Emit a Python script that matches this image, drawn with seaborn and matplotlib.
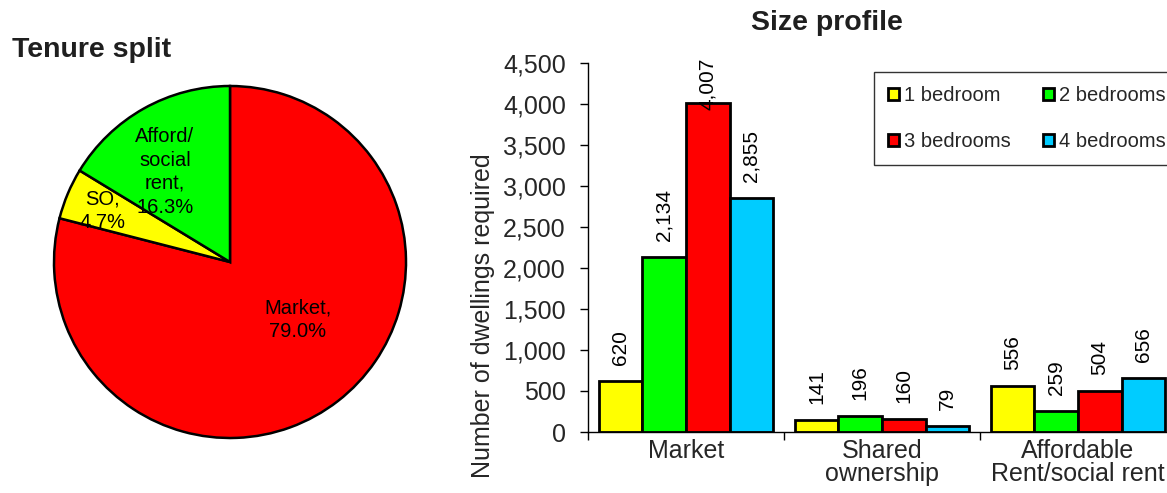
import matplotlib
matplotlib.use("Agg")
import matplotlib.pyplot as plt
import seaborn as sns
import pandas as pd
import numpy as np

# ---- data ----
tenure_labels = ["Market,\n79.0%", "SO,\n4.7%", "Afford/\nsocial\nrent,\n16.3%"]
tenure_values = [79.0, 4.7, 16.3]
tenure_colors = ["#FF0000", "#FFFF00", "#00FF00"]

categories = ["Market", "Shared\nownership", "Affordable\nRent/social rent"]
bed_sizes = ["1 bedroom", "2 bedrooms", "3 bedrooms", "4 bedrooms"]
one_bed = [620, 141, 556]
two_bed = [2134, 196, 259]
three_bed = [4007, 160, 504]
four_bed = [2855, 79, 656]
bed_colors = ["#FFFF00", "#00FF00", "#FF0000", "#00CCFF"]
yticks = [0, 500, 1000, 1500, 2000, 2500, 3000, 3500, 4000, 4500]

sns.set_theme(style="white")
plt.rcParams["font.family"] = ["Liberation Sans", "DejaVu Sans"]

W, H = 1167, 493
fig = plt.figure(figsize=(W / 100, H / 100), dpi=100)

# ---- pie ----
cx, cy, r = 230, 262, 176
axp = fig.add_axes([(cx - r) / W, 1 - (cy + r) / H, 2 * r / W, 2 * r / H])
wedges, texts = axp.pie(tenure_values, colors=tenure_colors, startangle=90,
                        counterclock=False,
                        wedgeprops=dict(edgecolor="black", linewidth=1.8))
axp.set_xlim(-1, 1)
axp.set_ylim(-1, 1)
axp.set_aspect("equal")
lab_pos = [(0.386, -0.33), (-0.727, 0.29), (-0.37, 0.51)]
for lab, (x, y) in zip(tenure_labels, lab_pos):
    axp.text(x, y, lab, ha="center", va="center", fontsize=14.5, color="black",
             linespacing=1.3)
fig.text(12 / W, 1 - 50 / H, "Tenure split", fontsize=20.5, fontweight="bold",
         ha="left", va="center", color="#1f1f1f")

# ---- bars ----
rows = []
for size, vals in zip(bed_sizes, [one_bed, two_bed, three_bed, four_bed]):
    for c, v in zip(categories, vals):
        rows.append({"category": c, "size": size, "value": v})
df = pd.DataFrame(rows)

left, right = 588, 1176
top, bottom = 63, 432
axb = fig.add_axes([left / W, 1 - bottom / H, (right - left) / W, (bottom - top) / H])
sns.barplot(data=df, x="category", y="value", hue="size", order=categories,
            hue_order=bed_sizes, palette=bed_colors, saturation=1, width=0.89,
            edgecolor="black", linewidth=2.0, ax=axb, legend=True)
axb.set_ylim(0, 4500)
axb.set_xlim(-0.5, 2.5)
axb.set_yticks(yticks)
axb.set_yticklabels([f"{v:,}" for v in yticks], fontsize=18)
axb.set_xlabel("")
axb.set_ylabel("Number of dwellings required", fontsize=18)
axb.yaxis.set_label_coords((483 - left) / (right - left), (bottom - 316) / (bottom - top))
axb.yaxis.label.set_va("center")
axb.tick_params(axis="x", which="major", length=0, labelsize=18, pad=5)
for t in axb.get_xticklabels():
    t.set_linespacing(0.95)
axb.set_xticks([-0.5, 0.5, 1.5, 2.5], minor=True)
axb.tick_params(axis="x", which="minor", length=6, width=1, color="black",
                direction="out", bottom=True)
axb.tick_params(axis="y", length=6, width=1, color="black", direction="out",
                left=True, pad=10)
for s in ["top", "right"]:
    axb.spines[s].set_visible(False)
for s in ["left", "bottom"]:
    axb.spines[s].set_color("black")
    axb.spines[s].set_linewidth(1)

# value labels; labels that would rise past the plot top are pulled down (as Excel does)
px_per_unit = (bottom - top) / 4500.0
for cont in axb.containers:
    for bar in cont:
        h = bar.get_height()
        xc = bar.get_x() + bar.get_width() / 2
        txt = f"{int(round(h)):,}"
        est_len_px = 15 * 1.39 * (0.556 * sum(ch.isdigit() for ch in txt) + 0.278 * txt.count(","))
        label_top_px = h * px_per_unit + 16 + est_len_px
        if label_top_px > (bottom - top) + 5:
            axb.annotate(txt, (xc, 4500), xytext=(0, 3.6), textcoords="offset points",
                         rotation=90, ha="center", va="top", fontsize=15,
                         color="black", annotation_clip=False)
        else:
            axb.annotate(txt, (xc, h), xytext=(0, 11.5), textcoords="offset points",
                         rotation=90, ha="center", va="bottom", fontsize=15,
                         color="black", annotation_clip=False)

handles, labels = axb.get_legend_handles_labels()
order = [0, 2, 1, 3]
leg = axb.legend([handles[i] for i in order], [labels[i] for i in order],
                 loc="upper left", bbox_to_anchor=(874 / W, 1 - 72 / H),
                 bbox_transform=fig.transFigure, ncol=2, fontsize=14.5,
                 frameon=True, fancybox=False, edgecolor="black",
                 handlelength=0.55, handleheight=0.55, handletextpad=0.25,
                 columnspacing=1.6, labelspacing=1.35, borderpad=0.7,
                 borderaxespad=0)
leg.get_frame().set_linewidth(1)
for h in leg.legend_handles:
    h.set_edgecolor("black")
    h.set_linewidth(2)

fig.text(827 / W, 1 - 23 / H, "Size profile", fontsize=20.5, fontweight="bold",
         ha="center", va="center", color="#1f1f1f")

fig.savefig("out.png", dpi=100)
